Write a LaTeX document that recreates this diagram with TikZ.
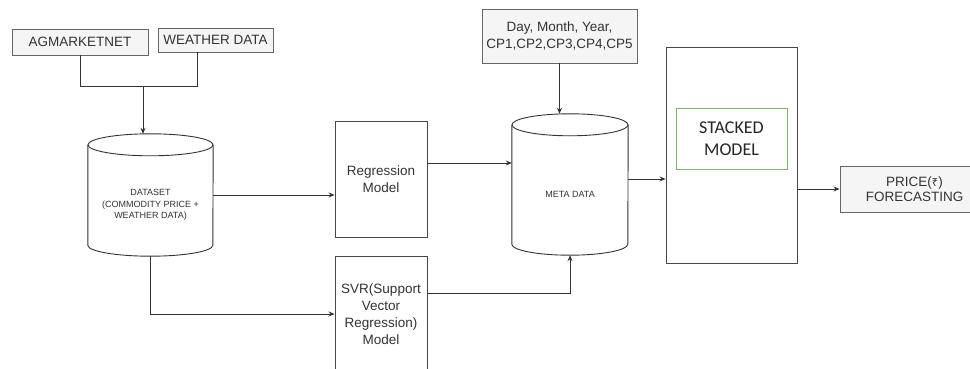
\documentclass[tikz,border=0pt]{standalone}
\usepackage{fontspec}
\setmainfont{Liberation Sans}
\newfontfamily\carlito{Carlito}
\newfontfamily\notos{Noto Sans}
\usetikzlibrary{arrows.meta,shadows,calc}
\definecolor{ln}{HTML}{333333}
\definecolor{boxline}{HTML}{666666}
\definecolor{boxfill}{HTML}{F5F5F5}
\definecolor{txt}{HTML}{333333}
\definecolor{grn}{HTML}{82B366}
\newcommand\mycyl[3]{%
  \draw[cylline] ($(#1.north)+(0,#3)$) ellipse [x radius=#2pt, y radius=#3pt];
  \draw[cylline] ($(#1.north west)+(0,#3)$) -- ($(#1.south west)+(0,-#3)$)
     arc[start angle=180,end angle=360,x radius=#2pt,y radius=#3pt]
     -- ($(#1.north east)+(0,#3)$);
}
\begin{document}
\begin{tikzpicture}[x=1pt,y=-1pt,
  shad/.style={drop shadow={shadow xshift=1.3pt,shadow yshift=-1.3pt,opacity=0.3,fill=black!60}},
  graybox/.style={draw=boxline, fill=boxfill, line width=0.9pt, shad, text=txt, inner sep=0pt, align=center, font=\fontsize{13.5}{16.5}\selectfont},
  whitebox/.style={draw=ln!90, fill=white, line width=0.9pt, shad, text=txt, inner sep=0pt, align=center, font=\fontsize{13.5}{17}\selectfont},
  cylline/.style={draw=ln, line width=0.9pt},
  hold/.style={draw=none, inner sep=0pt},
  smalltxt/.style={text=txt, align=center, font=\fontsize{9}{11.5}\selectfont},
  conn/.style={draw=ln, line width=0.9pt},
  arr/.style={conn, -{Stealth[length=6pt,width=5pt]}}
]
\useasboundingbox (0,0) rectangle (970,369);
\clip (0,0) rectangle (970,369);
\fill[white] (0,0) rectangle (970,369);

% top inputs
\node[graybox, minimum width=136pt, minimum height=26pt] (ag) at (80,42) {AGMARKETNET};
\node[graybox, minimum width=115pt, minimum height=24pt] (wd) at (215.5,40) {WEATHER DATA};
\coordinate (j) at (143,86);

% dataset cylinder
\node[hold, minimum width=125pt, minimum height=122pt] (ds) at (150.5,195) {};
\mycyl{ds}{62.5}{11}
\node[smalltxt] (dstxt) at (150.5,205) {DATASET\\(COMMODITY PRICE +\\WEATHER DATA)};

% models
\node[whitebox, minimum width=92pt, minimum height=116pt] (reg) at (381,179) {Regression\\Model};
\node[whitebox, minimum width=92pt, minimum height=116pt] (svr) at (381,314) {SVR(Support\\Vector\\Regression)\\Model};

% meta data cylinder
\node[hold, minimum width=116pt, minimum height=141pt] (md) at (570,184.5) {};
\mycyl{md}{58}{11}
\node[smalltxt] (mdtxt) at (570,194) {META DATA};

% day box
\node[graybox, minimum width=155pt, minimum height=54pt] (day) at (559.5,36) {Day, Month, Year,\\CP1,CP2,CP3,CP4,CP5};

% stacked model
\node[whitebox, minimum width=131pt, minimum height=216pt] (stk) at (731.5,155) {};
\node[draw=grn, line width=0.9pt, fill=white, minimum width=111pt, minimum height=61pt, inner sep=0pt, align=center, text=black!85, font=\carlito\fontsize{18}{22}\selectfont] (stkin) at (731.5,138.5) {STACKED\\MODEL};

% price
\node[graybox, minimum width=149pt, minimum height=46pt, font=\fontsize{13.5}{15.5}\selectfont] (price) at (914.5,189) {PRICE({\notos\fontsize{11}{11}\selectfont ₹})\\FORECASTING};

% connectors
\draw[conn] (ag.south) |- (j);
\draw[conn] (197,0 |- wd.south) |- (j);
\draw[arr] (j) -- (j |- ds.north);
\draw[arr] (ds.east) -- (ds.east -| reg.west);
\draw[arr] (ds.south) |- (svr.west);
\draw[arr] (reg.east |- 0,163) -- (md.west |- 0,163);
\draw[arr] (svr.east |- 0,293) -| (md.south);
\draw[arr] (day.south) -- (day.south |- md.north);
\draw[arr] (md.east |- 0,179) -- (stk.west |- 0,179);
\draw[arr] (stk.east |- price.west) -- (price.west);
\end{tikzpicture}
\end{document}
